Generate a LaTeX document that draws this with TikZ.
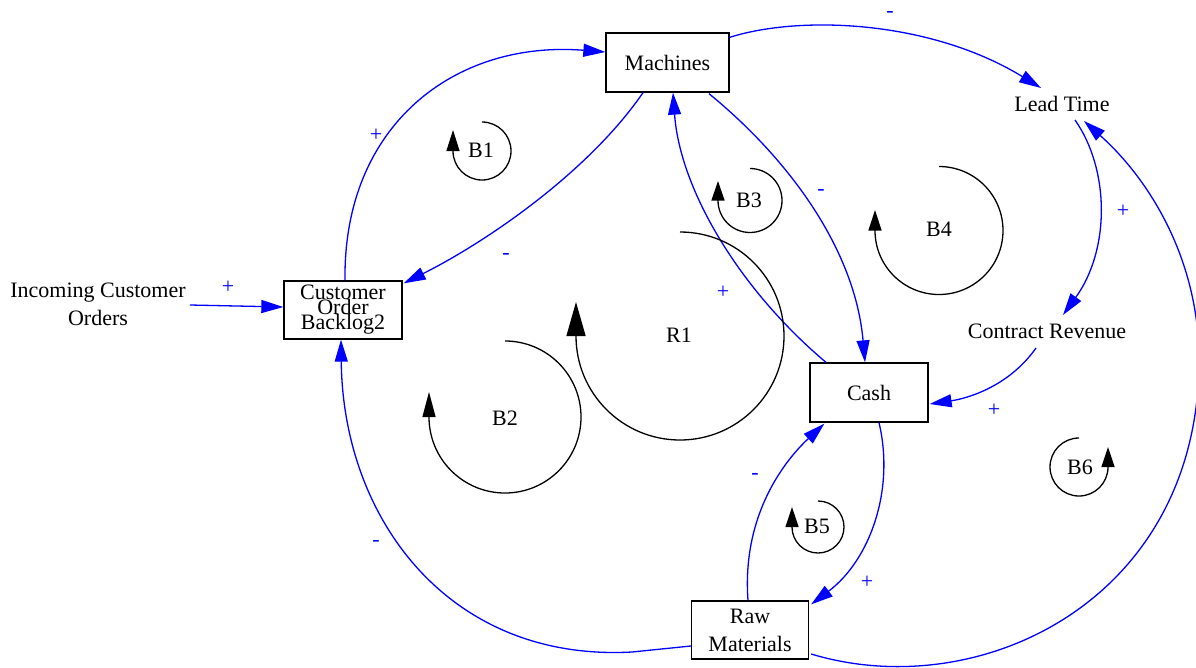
\documentclass[tikz,border=0pt]{standalone}
\usepackage{fontspec}
\setmainfont{Liberation Serif}
\usetikzlibrary{arrows.meta,calc}
\begin{document}
\begin{tikzpicture}[x=1pt,y=-1pt,
  every node/.style={font=\fontsize{22}{28}\selectfont, inner sep=0pt},
  box/.style={draw=black, line width=1.3pt, minimum height=59pt, align=center},
  link/.style={draw=blue, line width=1.3pt, -{Triangle[length=22pt,width=13pt]}, fill=none},
  sign/.style={text=blue, anchor=base},
  loopline/.style={draw=black, line width=1.3pt},
  looptip/.style={-{Triangle[length=#1,width=13pt]}},
  bigtip/.style={-{Triangle[length=34pt,width=19pt]}},
]
\useasboundingbox (0,0) rectangle (1196,667);

% nodes
\node[box, minimum width=123pt] (machines) at (667.5,62.5) {Machines};
\node[box, minimum width=118pt] (cash) at (869,392.5) {Cash};
\node[box, minimum width=117pt, minimum height=58pt] (raw) at (750,630) {Raw\\Materials};
\node[box, minimum width=118pt, minimum height=58pt] (cob) at (343,310) {Customer\\[-13pt]Order\\[-13pt]Backlog2};
\node[align=center] (inc) at (98,304) {Incoming Customer\\Orders};
\node (lead) at (1062,104) {Lead Time};
\node (rev) at (1047,331) {Contract Revenue};

% connectors
\draw[link] ($(inc.east)+(4,1)$) -- ($(cob.west)+(0,-3)$);
\draw[link] ($(cob.north)+(2,0)$) .. controls (343,125) and (455,40) .. ($(machines.west)+(0,-10.5)$);
\draw[link] ($(machines.south)+(-24.5,0)$) .. controls (590,170) and (490,240) .. ($(cob.north east)+(1,3)$);
\draw[link] ($(machines.north east)+(0,5)$) .. controls (800,15) and (930,20) .. ($(lead.center)+(-21,-16)$);
\draw[link] ($(lead.center)+(13,16)$) .. controls (1110,170) and (1110,250) .. ($(rev.center)+(16,-16)$);
\draw[link] ($(rev.center)+(-11,17)$) .. controls (1010,385) and (970,398) .. ($(cash.east)+(1,11.5)$);
\draw[link] ($(machines.south)+(41.5,1)$) .. controls (790,160) and (855,250) .. ($(cash.north)+(-4,0)$);
\draw[link] ($(cash.north)+(-43,0)$) .. controls (740,290) and (680,190) .. ($(machines.south)+(5.5,0)$);
\draw[link] ($(cash.south)+(10,0)$) .. controls (895,490) and (870,560) .. ($(raw.north east)+(2,4)$);
\draw[link] ($(raw.north)+(-2,0)$) .. controls (742,520) and (780,465) .. ($(cash.south west)+(15,1)$);
\draw[link] ($(raw.west)+(0,16)$) -- (632,652) .. controls (450,662) and (343,520) .. ($(cob.south)+(-2,0)$);
\draw[link] ($(raw.east)+(2,24)$) .. controls (980,705) and (1199,600) .. (1199,360) .. controls (1199,260) and (1150,180) .. ($(lead.center)+(22,17)$);

% polarity signs
\node[sign] (s1) at (228,293.5) {+};
\node[sign] (s2) at (376,141.5) {+};
\node[sign] (s3) at (506,259) {-};
\node[sign] (s4) at (890,17) {-};
\node[sign] (s5) at (821,195.7) {-};
\node[sign] (s6) at (723,298.5) {+};
\node[sign] (s7) at (1123,217.5) {+};
\node[sign] (s8) at (994,416.5) {+};
\node[sign] (s9) at (867,588.5) {+};
\node[sign] (s10) at (755,479) {-};
\node[sign] (s11) at (376,546.7) {-};

% loop markers
\draw[loopline, looptip=21pt] (482,122) arc[start angle=-90, end angle=180, radius=29] -- ++(0,-21);
\node (b1) at (481,150) {B1};
\draw[loopline, looptip=25pt] (505,341) arc[start angle=-90, end angle=180, radius=76] -- ++(0,-25);
\node (b2) at (505,418) {B2};
\draw[loopline, bigtip] (680,232) arc[start angle=-90, end angle=180, radius=104] -- ++(0,-34);
\node (r1) at (679,335) {R1};
\draw[loopline, looptip=19.5pt] (750,168.5) arc[start angle=-90, end angle=180, radius=32] -- ++(0,-19.5);
\node (b3) at (749,200) {B3};
\draw[loopline, looptip=20.5pt] (939,166.5) arc[start angle=-90, end angle=180, radius=64] -- ++(0,-20.5);
\node (b4) at (939,229) {B4};
\draw[loopline, looptip=20pt] (818,501) arc[start angle=-90, end angle=180, radius=26] -- ++(0,-20);
\node (b5) at (817,526) {B5};
\draw[loopline, looptip=20pt] (1079,438) arc[start angle=-90, end angle=-360, radius=29] -- ++(0,-20);
\node (b6) at (1080,467) {B6};
\end{tikzpicture}
\end{document}
